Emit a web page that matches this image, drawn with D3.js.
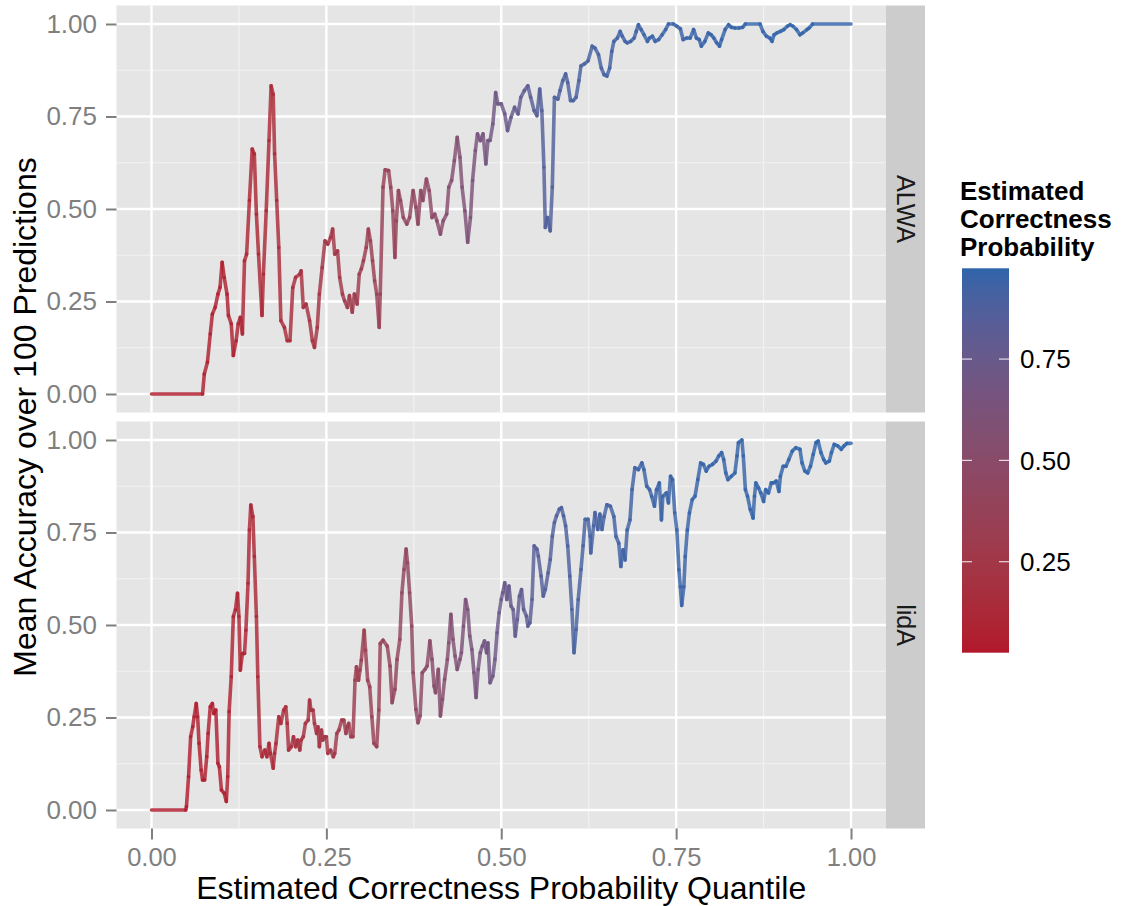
<!DOCTYPE html>
<html>
<head>
<meta charset="utf-8">
<script src="https://cdn.jsdelivr.net/npm/d3@7"></script>
<style>
  body { margin: 0; background: #fff; }
  svg { display: block; font-family: "Liberation Sans", Arial, Helvetica, sans-serif; }
</style>
</head>
<body>
<svg id="chart" width="1123" height="906"></svg>
<script>
// facet names
const facets = ['ALWA', 'lidA'];

// ALWA: quantile (x) and mean accuracy over 100 predictions (y)
const alwaQuantile = [0, 0.073, 0.0755, 0.080, 0.084, 0.087, 0.091, 0.095, 0.098, 0.101, 0.104, 0.108, 0.110, 0.114, 0.117, 0.121, 0.124, 0.127, 0.130, 0.133, 0.136, 0.140, 0.144, 0.147, 0.150, 0.153, 0.158, 0.160, 0.164, 0.168, 0.171, 0.174, 0.176, 0.179, 0.182, 0.185, 0.190, 0.194, 0.198, 0.202, 0.206, 0.212, 0.214, 0.217, 0.221, 0.226, 0.230, 0.233, 0.237, 0.240, 0.244, 0.248, 0.252, 0.256, 0.259, 0.262, 0.266, 0.269, 0.273, 0.276, 0.280, 0.283, 0.287, 0.290, 0.294, 0.297, 0.300, 0.303, 0.307, 0.310, 0.313, 0.316, 0.319, 0.322, 0.3255, 0.327, 0.331, 0.334, 0.339, 0.342, 0.345, 0.348, 0.350, 0.353, 0.356, 0.360, 0.365, 0.369, 0.374, 0.378, 0.381, 0.385, 0.388, 0.393, 0.397, 0.401, 0.405, 0.408, 0.413, 0.417, 0.422, 0.425, 0.429, 0.433, 0.437, 0.441, 0.444, 0.448, 0.452, 0.456, 0.459, 0.463, 0.466, 0.470, 0.474, 0.478, 0.481, 0.484, 0.488, 0.492, 0.495, 0.500, 0.505, 0.509, 0.514, 0.519, 0.524, 0.528, 0.533, 0.538, 0.542, 0.547, 0.551, 0.555, 0.558, 0.561, 0.563, 0.566, 0.570, 0.573, 0.576, 0.581, 0.584, 0.588, 0.592, 0.595, 0.599, 0.603, 0.607, 0.611, 0.614, 0.619, 0.624, 0.630, 0.634, 0.639, 0.643, 0.647, 0.651, 0.655, 0.658, 0.661, 0.666, 0.670, 0.673, 0.677, 0.680, 0.685, 0.690, 0.693, 0.696, 0.700, 0.704, 0.709, 0.712, 0.716, 0.720, 0.725, 0.730, 0.735, 0.739, 0.746, 0.751, 0.756, 0.760, 0.765, 0.770, 0.775, 0.779, 0.783, 0.786, 0.791, 0.796, 0.800, 0.804, 0.808, 0.812, 0.815, 0.820, 0.825, 0.829, 0.834, 0.840, 0.845, 0.849, 0.870, 0.874, 0.879, 0.884, 0.887, 0.890, 0.894, 0.899, 0.904, 0.909, 0.913, 0.917, 0.922, 0.927, 0.931, 0.937, 0.940, 0.945, 1.0];
const alwaAccuracy = [0, 0, 0.054, 0.086, 0.162, 0.216, 0.234, 0.27, 0.288, 0.356, 0.315, 0.27, 0.212, 0.19, 0.104, 0.144, 0.19, 0.207, 0.162, 0.36, 0.378, 0.523, 0.662, 0.649, 0.486, 0.378, 0.212, 0.324, 0.495, 0.685, 0.833, 0.81, 0.649, 0.523, 0.396, 0.198, 0.18, 0.144, 0.144, 0.288, 0.315, 0.324, 0.333, 0.234, 0.243, 0.198, 0.144, 0.126, 0.18, 0.27, 0.342, 0.414, 0.405, 0.423, 0.446, 0.378, 0.387, 0.315, 0.27, 0.252, 0.234, 0.266, 0.221, 0.27, 0.243, 0.324, 0.338, 0.36, 0.396, 0.446, 0.414, 0.36, 0.306, 0.27, 0.18, 0.27, 0.559, 0.606, 0.604, 0.559, 0.495, 0.369, 0.468, 0.55, 0.523, 0.477, 0.459, 0.477, 0.55, 0.505, 0.459, 0.55, 0.523, 0.581, 0.55, 0.477, 0.486, 0.468, 0.432, 0.468, 0.486, 0.559, 0.577, 0.631, 0.694, 0.64, 0.559, 0.495, 0.41, 0.477, 0.577, 0.658, 0.703, 0.685, 0.703, 0.622, 0.685, 0.685, 0.73, 0.815, 0.784, 0.784, 0.757, 0.712, 0.748, 0.775, 0.757, 0.802, 0.82, 0.833, 0.802, 0.766, 0.752, 0.824, 0.766, 0.613, 0.45, 0.477, 0.441, 0.559, 0.802, 0.797, 0.82, 0.847, 0.865, 0.842, 0.793, 0.793, 0.802, 0.847, 0.887, 0.892, 0.90, 0.94, 0.935, 0.917, 0.881, 0.863, 0.859, 0.881, 0.926, 0.953, 0.962, 0.98, 0.967, 0.953, 0.949, 0.953, 0.962, 0.98, 0.998, 0.985, 0.971, 0.953, 0.962, 0.967, 0.953, 0.958, 0.971, 0.985, 1.0, 1.0, 0.994, 0.987, 0.958, 0.962, 0.962, 0.985, 0.962, 0.958, 0.94, 0.953, 0.976, 0.971, 0.962, 0.949, 0.94, 0.958, 0.985, 0.998, 0.991, 0.989, 0.989, 0.991, 1.0, 1.0, 0.98, 0.967, 0.962, 0.953, 0.971, 0.976, 0.98, 0.985, 0.994, 0.998, 0.994, 0.985, 0.971, 0.976, 0.985, 0.989, 1.0, 1.0];

// lidA: quantile and mean accuracy
const lidaQuantile = [0, 0.049, 0.050, 0.053, 0.056, 0.059, 0.061, 0.064, 0.066, 0.068, 0.071, 0.073, 0.076, 0.079, 0.081, 0.084, 0.087, 0.089, 0.092, 0.095, 0.097, 0.100, 0.104, 0.107, 0.109, 0.111, 0.114, 0.117, 0.120, 0.123, 0.125, 0.127, 0.130, 0.133, 0.135, 0.138, 0.140, 0.142, 0.145, 0.147, 0.150, 0.152, 0.155, 0.158, 0.162, 0.165, 0.168, 0.170, 0.174, 0.176, 0.178, 0.182, 0.185, 0.189, 0.192, 0.194, 0.196, 0.200, 0.203, 0.206, 0.209, 0.212, 0.214, 0.217, 0.220, 0.224, 0.226, 0.228, 0.231, 0.233, 0.236, 0.238, 0.240, 0.243, 0.245, 0.248, 0.250, 0.252, 0.256, 0.260, 0.262, 0.265, 0.268, 0.272, 0.275, 0.278, 0.280, 0.282, 0.285, 0.288, 0.291, 0.293, 0.296, 0.298, 0.300, 0.304, 0.306, 0.309, 0.312, 0.315, 0.318, 0.322, 0.325, 0.327, 0.331, 0.337, 0.341, 0.344, 0.348, 0.351, 0.355, 0.358, 0.361, 0.364, 0.366, 0.369, 0.372, 0.374, 0.378, 0.381, 0.384, 0.387, 0.391, 0.394, 0.398, 0.401, 0.404, 0.406, 0.410, 0.413, 0.416, 0.419, 0.423, 0.425, 0.428, 0.431, 0.434, 0.437, 0.441, 0.443, 0.446, 0.449, 0.452, 0.455, 0.458, 0.461, 0.464, 0.467, 0.470, 0.473, 0.476, 0.479, 0.481, 0.484, 0.488, 0.491, 0.494, 0.497, 0.500, 0.502, 0.505, 0.508, 0.511, 0.514, 0.517, 0.520, 0.523, 0.526, 0.529, 0.532, 0.536, 0.538, 0.541, 0.544, 0.547, 0.551, 0.553, 0.557, 0.560, 0.563, 0.567, 0.570, 0.573, 0.576, 0.579, 0.583, 0.586, 0.589, 0.592, 0.595, 0.598, 0.601, 0.604, 0.607, 0.610, 0.614, 0.617, 0.620, 0.624, 0.627, 0.628, 0.632, 0.634, 0.638, 0.641, 0.644, 0.647, 0.651, 0.656, 0.661, 0.664, 0.668, 0.671, 0.674, 0.677, 0.680, 0.684, 0.687, 0.691, 0.696, 0.701, 0.704, 0.708, 0.712, 0.715, 0.719, 0.722, 0.726, 0.729, 0.731, 0.736, 0.739, 0.742, 0.745, 0.748, 0.751, 0.754, 0.756, 0.758, 0.761, 0.763, 0.766, 0.769, 0.773, 0.777, 0.781, 0.785, 0.789, 0.793, 0.797, 0.802, 0.807, 0.811, 0.815, 0.818, 0.821, 0.824, 0.829, 0.834, 0.837, 0.839, 0.844, 0.846, 0.849, 0.852, 0.856, 0.860, 0.862, 0.864, 0.868, 0.871, 0.875, 0.878, 0.882, 0.886, 0.889, 0.893, 0.897, 0.899, 0.903, 0.907, 0.911, 0.916, 0.921, 0.927, 0.930, 0.934, 0.938, 0.942, 0.946, 0.950, 0.953, 0.957, 0.961, 0.964, 0.969, 0.972, 0.976, 0.981, 0.986, 0.990, 0.994, 1.0];
const lidaAccuracy = [0, 0, 0.009, 0.09, 0.198, 0.225, 0.252, 0.288, 0.252, 0.18, 0.108, 0.081, 0.081, 0.144, 0.207, 0.279, 0.288, 0.261, 0.27, 0.126, 0.117, 0.054, 0.045, 0.023, 0.09, 0.266, 0.36, 0.523, 0.541, 0.586, 0.523, 0.378, 0.423, 0.423, 0.486, 0.613, 0.757, 0.824, 0.793, 0.685, 0.523, 0.36, 0.171, 0.144, 0.162, 0.144, 0.18, 0.153, 0.113, 0.153, 0.18, 0.252, 0.234, 0.27, 0.279, 0.234, 0.162, 0.171, 0.198, 0.171, 0.189, 0.162, 0.189, 0.198, 0.234, 0.243, 0.297, 0.27, 0.27, 0.234, 0.207, 0.225, 0.171, 0.216, 0.189, 0.198, 0.198, 0.153, 0.162, 0.144, 0.153, 0.207, 0.216, 0.243, 0.243, 0.207, 0.225, 0.234, 0.198, 0.198, 0.351, 0.387, 0.351, 0.378, 0.405, 0.486, 0.432, 0.351, 0.333, 0.252, 0.18, 0.171, 0.27, 0.45, 0.459, 0.443, 0.389, 0.29, 0.326, 0.407, 0.461, 0.587, 0.65, 0.705, 0.668, 0.587, 0.497, 0.371, 0.272, 0.236, 0.254, 0.371, 0.38, 0.389, 0.457, 0.407, 0.335, 0.317, 0.38, 0.254, 0.299, 0.353, 0.407, 0.452, 0.529, 0.461, 0.416, 0.38, 0.407, 0.425, 0.497, 0.569, 0.542, 0.47, 0.434, 0.371, 0.304, 0.38, 0.425, 0.443, 0.457, 0.425, 0.452, 0.344, 0.362, 0.407, 0.479, 0.533, 0.569, 0.587, 0.614, 0.569, 0.605, 0.551, 0.542, 0.47, 0.515, 0.578, 0.596, 0.542, 0.524, 0.497, 0.506, 0.569, 0.714, 0.705, 0.686, 0.632, 0.578, 0.596, 0.641, 0.677, 0.74, 0.777, 0.795, 0.813, 0.817, 0.795, 0.768, 0.714, 0.632, 0.542, 0.425, 0.488, 0.569, 0.65, 0.714, 0.786, 0.786, 0.74, 0.695, 0.768, 0.804, 0.758, 0.80, 0.758, 0.793, 0.825, 0.821, 0.793, 0.739, 0.721, 0.658, 0.703, 0.676, 0.757, 0.784, 0.866, 0.925, 0.92, 0.938, 0.92, 0.875, 0.866, 0.848, 0.821, 0.866, 0.884, 0.784, 0.848, 0.857, 0.83, 0.902, 0.893, 0.803, 0.757, 0.649, 0.603, 0.553, 0.603, 0.685, 0.757, 0.803, 0.839, 0.848, 0.893, 0.938, 0.934, 0.916, 0.929, 0.934, 0.943, 0.957, 0.966, 0.947, 0.911, 0.893, 0.902, 0.911, 0.957, 0.993, 1.0, 0.957, 0.866, 0.848, 0.812, 0.789, 0.848, 0.884, 0.87, 0.857, 0.834, 0.866, 0.857, 0.884, 0.884, 0.889, 0.861, 0.902, 0.929, 0.929, 0.947, 0.97, 0.979, 0.975, 0.938, 0.916, 0.911, 0.929, 0.961, 0.993, 0.997, 0.966, 0.947, 0.938, 0.943, 0.966, 0.988, 0.984, 0.975, 0.984, 0.991, 0.991];

// estimated correctness probability at a few quantiles (read from the line colour)
const probQuantile = [0, 0.1, 0.2, 0.3, 0.4, 0.45, 0.5, 0.55, 0.6, 0.7, 0.8, 1.0];
const alwaProb = [0.03, 0.06, 0.15, 0.3, 0.48, 0.6, 0.72, 0.85, 0.9, 0.94, 0.96, 0.974];
const lidaProb = [0.03, 0.06, 0.16, 0.32, 0.5, 0.62, 0.74, 0.85, 0.9, 0.94, 0.96, 0.974];

// tick labels
const axisTicks = [0, 0.25, 0.5, 0.75, 1];
const minorTicks = [0.125, 0.375, 0.625, 0.875];
const legendTicks = [0.25, 0.5, 0.75];
const colourRange = [0.0255, 0.974];

const panelData = [
  { name: facets[0], q: alwaQuantile, acc: alwaAccuracy, prob: alwaProb },
  { name: facets[1], q: lidaQuantile, acc: lidaAccuracy, prob: lidaProb }
];

// layout
const panelLeft = 116.5, panelRight = 886, stripW = 39;
const panelTops = [5.5, 421.5], panelH = 407;
const fmt = d3.format('.2f');
const grey50 = '#7f7f7f';

const x = d3.scaleLinear().domain([-0.05, 1.05]).range([panelLeft, panelRight]);
const colour = d3.scaleLinear().domain(colourRange).range(['#b2182b', '#2f64aa']).interpolate(d3.interpolateLab).clamp(true);

const svg = d3.select('#chart');
svg.append('rect').attr('width', 1123).attr('height', 906).attr('fill', '#fff');

panelData.forEach(function (p, i) {
  const top = panelTops[i];
  const y = d3.scaleLinear().domain([-0.05, 1.05]).range([top + panelH, top]);
  const probAt = d3.scaleLinear().domain(probQuantile).range(p.prob);

  const g = svg.append('g').attr('class', 'panel');

  // background
  g.append('rect').attr('x', panelLeft).attr('y', top)
    .attr('width', panelRight - panelLeft).attr('height', panelH).attr('fill', '#e5e5e5');

  // minor grid
  g.selectAll('.minor-x').data(minorTicks).enter().append('line')
    .attr('x1', d => x(d)).attr('x2', d => x(d)).attr('y1', top).attr('y2', top + panelH)
    .attr('stroke', '#f2f2f2').attr('stroke-width', 1.2);
  g.selectAll('.minor-y').data(minorTicks).enter().append('line')
    .attr('x1', panelLeft).attr('x2', panelRight).attr('y1', d => y(d)).attr('y2', d => y(d))
    .attr('stroke', '#f2f2f2').attr('stroke-width', 1.2);

  // major grid
  g.selectAll('.major-x').data(axisTicks).enter().append('line')
    .attr('x1', d => x(d)).attr('x2', d => x(d)).attr('y1', top).attr('y2', top + panelH)
    .attr('stroke', '#fff').attr('stroke-width', 2.4);
  g.selectAll('.major-y').data(axisTicks).enter().append('line')
    .attr('x1', panelLeft).attr('x2', panelRight).attr('y1', d => y(d)).attr('y2', d => y(d))
    .attr('stroke', '#fff').attr('stroke-width', 2.4);

  // the line, one segment per step so the colour can follow the probability
  const segs = d3.range(p.q.length - 1).map(k => ({
    x1: p.q[k], y1: p.acc[k], x2: p.q[k + 1], y2: p.acc[k + 1],
    prob: probAt((p.q[k] + p.q[k + 1]) / 2)
  }));
  g.append('g').selectAll('line').data(segs).enter().append('line')
    .attr('x1', d => x(d.x1)).attr('y1', d => y(d.y1))
    .attr('x2', d => x(d.x2)).attr('y2', d => y(d.y2))
    .attr('stroke', d => colour(d.prob))
    .attr('stroke-width', 3.6)
    .attr('stroke-linecap', 'round')
    .attr('stroke-opacity', 0.82);

  // y axis
  const yAxis = d3.axisLeft(y).tickValues(axisTicks).tickFormat(fmt).tickSize(10.5).tickPadding(9);
  const ya = svg.append('g').attr('transform', `translate(${panelLeft},0)`).call(yAxis);
  ya.select('.domain').remove();
  ya.selectAll('line').attr('stroke', grey50).attr('stroke-width', 2);
  ya.selectAll('text').attr('fill', grey50).attr('font-size', 26)
    .attr('font-family', '"Liberation Sans", Arial, sans-serif');

  // strip
  svg.append('rect').attr('x', panelRight).attr('y', top).attr('width', stripW).attr('height', panelH)
    .attr('fill', '#cccccc');
  svg.append('text')
    .attr('transform', `translate(${panelRight + stripW / 2},${top + panelH / 2}) rotate(90)`)
    .attr('text-anchor', 'middle').attr('dy', '0.36em')
    .attr('font-size', 25).attr('fill', '#1a1a1a')
    .text(p.name);
});

// x axis
const xAxis = d3.axisBottom(x).tickValues(axisTicks).tickFormat(fmt).tickSize(11).tickPadding(8);
const xa = svg.append('g').attr('transform', `translate(0,${panelTops[1] + panelH})`).call(xAxis);
xa.select('.domain').remove();
xa.selectAll('line').attr('stroke', grey50).attr('stroke-width', 2);
xa.selectAll('text').attr('fill', grey50).attr('font-size', 25.5)
  .attr('font-family', '"Liberation Sans", Arial, sans-serif');

// axis titles
svg.append('text').attr('x', (panelLeft + panelRight) / 2).attr('y', 898.5)
  .attr('text-anchor', 'middle').attr('font-size', 32)
  .text('Estimated Correctness Probability Quantile');
svg.append('text')
  .attr('transform', `translate(35.5,${panelTops[0] + (panelTops[1] + panelH - panelTops[0]) / 2}) rotate(-90)`)
  .attr('text-anchor', 'middle').attr('font-size', 32)
  .text('Mean Accuracy over 100 Predictions');

// legend
const legX = 962, legTop = 268.3, legBottom = 652.7, legW = 47;
const legTitle = ['Estimated', 'Correctness', 'Probability'];
svg.append('g').selectAll('text').data(legTitle).enter().append('text')
  .attr('x', 960).attr('y', (d, i) => 200 + i * 28.2)
  .attr('font-size', 26).attr('font-weight', 'bold')
  .text(d => d);

const legScale = d3.scaleLinear().domain(colourRange).range([legBottom, legTop]);
const grad = svg.append('defs').append('linearGradient').attr('id', 'legGrad')
  .attr('x1', 0).attr('y1', 1).attr('x2', 0).attr('y2', 0);
grad.selectAll('stop').data(d3.range(0, 1.0001, 0.05)).enter().append('stop')
  .attr('offset', d => d)
  .attr('stop-color', d => colour(colourRange[0] + d * (colourRange[1] - colourRange[0])));
svg.append('rect').attr('x', legX).attr('y', legTop).attr('width', legW).attr('height', legBottom - legTop)
  .attr('fill', 'url(#legGrad)');

const lt = svg.append('g').selectAll('g').data(legendTicks).enter().append('g');
lt.append('line').attr('x1', legX).attr('x2', legX + 10)
  .attr('y1', d => legScale(d)).attr('y2', d => legScale(d))
  .attr('stroke', '#fff').attr('stroke-opacity', 0.8).attr('stroke-width', 1.2);
lt.append('line').attr('x1', legX + legW - 10).attr('x2', legX + legW)
  .attr('y1', d => legScale(d)).attr('y2', d => legScale(d))
  .attr('stroke', '#fff').attr('stroke-opacity', 0.8).attr('stroke-width', 1.2);
lt.append('text').attr('x', 1020).attr('y', d => legScale(d)).attr('dy', '0.36em')
  .attr('font-size', 26).attr('fill', '#000')
  .text(d => fmt(d));
</script>
</body>
</html>
